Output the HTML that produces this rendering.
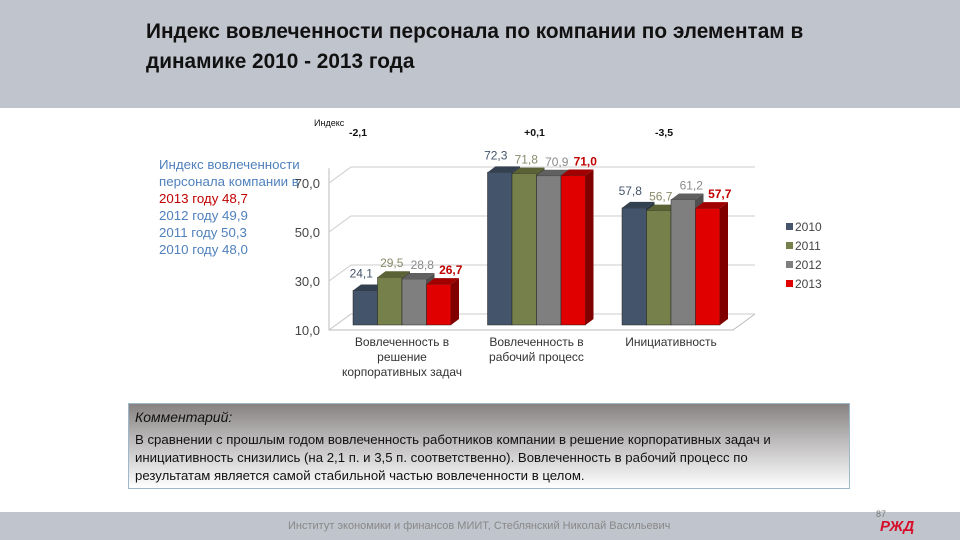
<!DOCTYPE html>
<html><head><meta charset="utf-8">
<style>
body{margin:0;width:960px;height:540px;overflow:hidden;background:#fff;font-family:"Liberation Sans",sans-serif;position:relative}
#hdr{position:absolute;left:0;top:0;width:960px;height:108px;background:#c0c4cd}
#title{position:absolute;left:146px;top:17px;font-size:20.8px;font-weight:bold;line-height:30px;color:#111}
#side{position:absolute;left:159px;top:156px;font-size:13.3px;line-height:17px;color:#4f81bd}
#cbox{position:absolute;left:128px;top:403px;width:720px;height:84px;border:1px solid #9db8c8;background:linear-gradient(#878282,#b8b6b6 40%,#fff)}
#cbox .h{position:absolute;left:6px;top:5px;font-style:italic;font-size:14px;color:#111}
#cbox .t{position:absolute;left:6px;top:27px;font-size:13.2px;line-height:18px;color:#111;width:688px}
#ftr{position:absolute;left:0;top:512px;width:960px;height:28px;background:#c0c4cd}
#ftr .t{position:absolute;left:288px;top:8px;font-size:11px;color:#888}
</style></head><body>
<div id="hdr"></div>
<div id="title">Индекс вовлеченности персонала по компании по элементам в<br>динамике 2010 - 2013 года</div>
<div id="side">Индекс вовлеченности<br>персонала компании в<br><span style="color:#c00000">2013 году 48,7</span><br>2012 году 49,9<br>2011 году 50,3<br>2010 году 48,0</div>
<svg id="chart" width="960" height="540" style="position:absolute;left:0;top:0"></svg>
<div id="cbox"><div class="h">Комментарий:</div><div class="t">В сравнении с прошлым годом вовлеченность работников компании в решение корпоративных задач и инициативность снизились (на 2,1 п. и 3,5 п. соответственно). Вовлеченность в рабочий процесс по результатам является самой стабильной частью вовлеченности в целом.</div></div>
<div id="ftr"><div class="t">Институт экономики и финансов МИИТ, Стеблянский Николай Васильевич</div></div>
<div style="position:absolute;left:876px;top:509px;font-size:9px;color:#777">87</div>
<div style="position:absolute;left:880px;top:518px;font-size:15px;font-weight:bold;font-style:italic;color:#d4102a">РЖД</div>
<script>
const categories=[["Вовлеченность в","решение","корпоративных задач"],["Вовлеченность в","рабочий процесс"],["Инициативность"]];
const years=["2010","2011","2012","2013"];
const s2010=[24.1,72.3,57.8];
const s2011=[29.5,71.8,56.7];
const s2012=[28.8,70.9,61.2];
const s2013=[26.7,71.0,57.7];
const deltas=["-2,1","+0,1","-3,5"];
const ticks=[10,30,50,70];
const series=[s2010,s2011,s2012,s2013];
const fronts=["#44546a","#76804a","#7f7f7f","#e00000"];
const tops=["#33404f","#5a6236","#606060","#a00000"];
const sides=["#2a3542","#4a5030","#505050","#800000"];
const lblc=["#44546a","#8a8a6a","#8a8a8a","#c00000"];
const lblOff=[-4,2,8,12];
const svg=document.getElementById('chart');
const NS="http://www.w3.org/2000/svg";
function el(t,a,txt){const e=document.createElementNS(NS,t);for(const k in a)e.setAttribute(k,a[k]);if(txt!==undefined)e.textContent=txt;svg.appendChild(e);return e;}
const yAx=v=>330-(v-10)*2.45;
const xGroup=i=>353+i*134.5;
const bw=24.5, dx=8, dy=-6, wdx=22, wdy=-16;
let w=el('path',{d:`M329 ${yAx(76)} L329 330 L733 330 L755 314 M329 330 L351 314 L755 314`,fill:'none',stroke:'#bbb'});

ticks.forEach(t=>{
 const y=yAx(t);
 let g=el('path',{d:`M329 ${y} L351 ${y+wdy} L755 ${y+wdy}`,fill:'none',stroke:'#ccc'});
 
 let l=el('text',{x:320,y:y+5,'text-anchor':'end','font-size':13,fill:'#444'},t.toFixed(1).replace('.',','));
 
});
categories.forEach((c,i)=>{
 series.forEach((s,j)=>{
  const x=xGroup(i)+j*bw, y=yAx(s[i])-5, b=325;
  let f=el('rect',{x:x,y:y,width:bw,height:b-y,fill:fronts[j],stroke:'#222','stroke-width':0.5});
  
  let t=el('path',{d:`M${x} ${y} L${x+dx} ${y+dy} L${x+bw+dx} ${y+dy} L${x+bw} ${y}Z`,fill:tops[j]});
  
  let sd=el('path',{d:`M${x+bw} ${y} L${x+bw+dx} ${y+dy} L${x+bw+dx} ${b+dy} L${x+bw} ${b}Z`,fill:sides[j]});
  
  let lb=el('text',{x:x+bw/2+lblOff[j],y:y-10-(j==0?3:0),'text-anchor':'middle','font-size':12,fill:lblc[j],'font-weight':j==3?'bold':'normal'},s[i].toFixed(1).replace('.',','));
  
 });
 const cx=xGroup(i)+2*bw;
 c.forEach((ln,k)=>{let t=el('text',{x:cx,y:346+k*15,'text-anchor':'middle','font-size':12,fill:'#333'},ln);
  });
 let d=el('text',{x:cx+(i==0?-44:(i==1?-2:-7)),y:136,'text-anchor':'middle','font-size':10.5,'font-weight':'bold',fill:'#111'},deltas[i]);
 
});
let ix=el('text',{x:314,y:126,'font-size':9,fill:'#111'},'Индекс');

years.forEach((y,j)=>{
 let r=el('rect',{x:786,y:223+j*19,width:7,height:7,fill:fronts[j]});
 
 let t=el('text',{x:795,y:231+j*19,'font-size':12,fill:'#444'},y);
 
});
</script>
</body></html>
